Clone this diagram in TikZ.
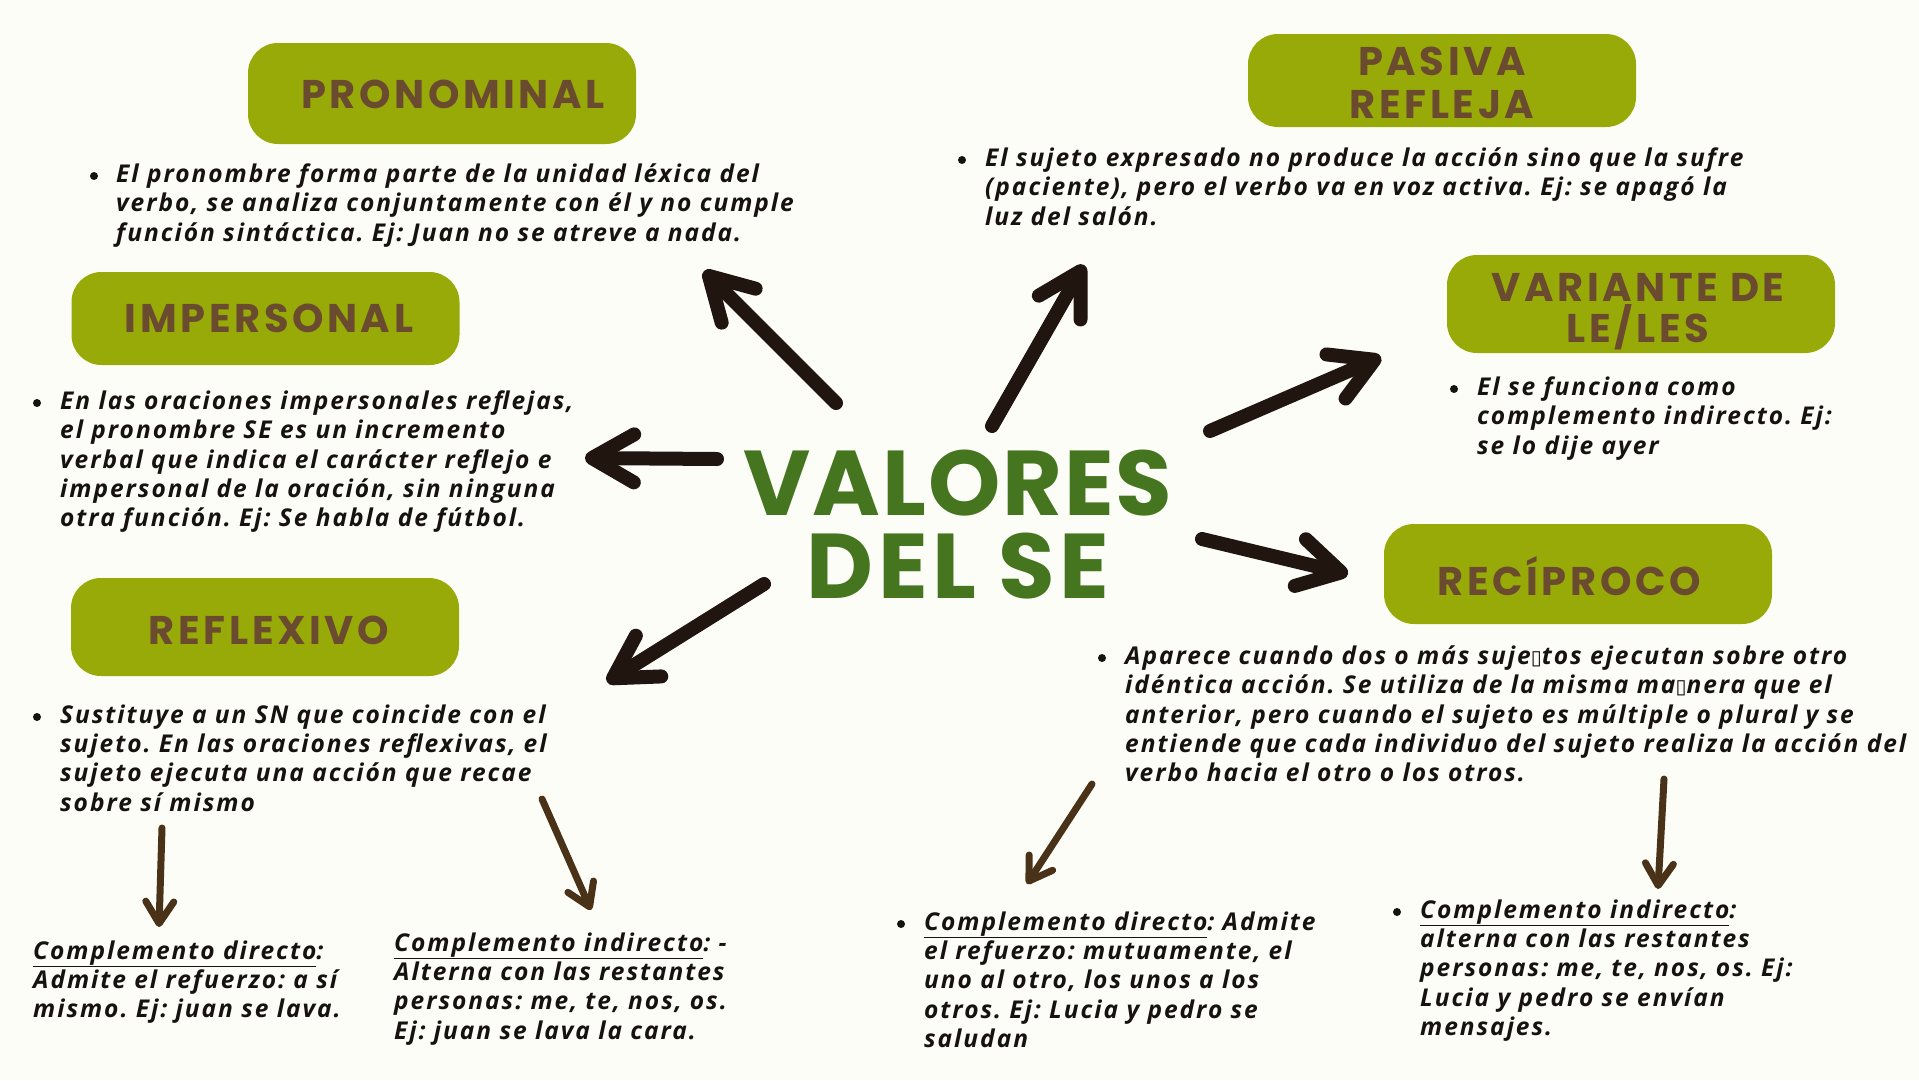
\documentclass[tikz,border=0pt]{standalone}
\usepackage{fontspec}
\setmainfont{Open Sans}[LetterSpace=8]
\newfontfamily\headfont{Poppins}[LetterSpace=9]
\newfontfamily\titlefont{Poppins}[LetterSpace=2]
\newfontfamily\titlefontb{Poppins}[LetterSpace=5]
\newfontfamily\symfont{DejaVu Sans}
\usetikzlibrary{arrows.meta}
\frenchspacing
\definecolor{bgc}{HTML}{FDFDF8}
\definecolor{boxgreen}{HTML}{97AA08}
\definecolor{headbrown}{HTML}{6B4B30}
\definecolor{titlegreen}{HTML}{45761F}
\definecolor{bodyblack}{HTML}{151210}
\definecolor{arrowdark}{HTML}{21150F}
\definecolor{arrowbrown}{HTML}{4A3218}
\newcommand{\tofu}{{\symfont\fontsize{20}{24}\selectfont ▯}}
\tikzset{
  box/.style={fill=boxgreen, rounded corners=30pt, minimum width=388pt, inner sep=0pt},
  headtext/.style={anchor=base, inner sep=0pt, align=center, text=headbrown,
    font=\headfont\bfseries\fontsize{40}{43}\selectfont},
  body/.style={anchor=north west, align=left, inner sep=0pt, text=bodyblack,
    font=\frenchspacing\bfseries\itshape\fontsize{24.5}{29.3}\selectfont, execute at begin node={\strut}},
  bigarrow/.style={draw=arrowdark, line width=14pt, line cap=round,
    -{Straight Barb[length=42pt,width=48pt,round]}},
  thinarrow/.style={draw=arrowbrown, line width=7pt, line cap=round,
    -{Straight Barb[length=22pt,width=28pt,round]}},
  bdot/.style={circle, fill=bodyblack, minimum size=8pt, inner sep=0pt},
  titletext/.style={anchor=base, text=titlegreen, inner sep=0pt},
}
\begin{document}
\begin{tikzpicture}[x=1pt,y=-1pt]
\fill[bgc] (0,0) rectangle (1919,1080);
\useasboundingbox (0,0) rectangle (1919,1080);

% title
\node[titletext, font=\titlefont\bfseries\fontsize{92}{92}\selectfont] (title1) at (958,515) {VALORES};
\node[titletext, font=\titlefontb\bfseries\fontsize{92}{92}\selectfont] (title2) at (958,598) {DEL\hspace{22pt}SE};

% boxes
\node[box, minimum height=101pt] (pron) at (442,93.5) {};
\node[box, minimum height=93pt] (imp) at (265.5,318.5) {};
\node[box, minimum height=98pt] (refl) at (265,627) {};
\node[box, minimum height=93pt] (pas) at (1442,80.5) {};
\node[box, minimum height=98pt] (var) at (1641,304) {};
\node[box, minimum height=100pt] (rec) at (1578,574) {};

% box labels
\node[headtext] (pronl) at (453,108) {PRONOMINAL};
\node[headtext] (impl) at (269,332) {IMPERSONAL};
\node[headtext] (refll) at (269,644) {REFLEXIVO};
\node[headtext] (pasl) at (1442,118) {PASIVA\\REFLEJA};
\node[headtext] (varl) at (1638,342) {VARIANTE DE\\[-2pt]LE/LES};
\node[headtext] (recl) at (1569,595) {RECÍPROCO};

% texts (north west = baseline - 20.5)
\node[bdot] (d1) at (94,176) {};
\node[body] (tpron) at (116,163.5) {El pronombre forma parte de la unidad léxica del\\verbo, se analiza conjuntamente con él y no cumple\\función sintáctica. Ej: Juan no se atreve a nada.};

\node[bdot] (d2) at (962,160) {};
\node[body] (tpas) at (985,147.5) {El sujeto expresado no produce la acción sino que la sufre\\(paciente), pero el verbo va en voz activa. Ej: se apagó la\\luz del salón.};

\node[bdot] (d3) at (1454,389) {};
\node[body] (tvar) at (1477,376.5) {El se funciona como\\complemento indirecto. Ej:\\se lo dije ayer};

\node[bdot] (d4) at (37,403) {};
\node[body] (timp) at (60,390.5) {En las oraciones impersonales reflejas,\\el pronombre SE es un incremento\\verbal que indica el carácter reflejo e\\impersonal de la oración, sin ninguna\\otra función. Ej: Se habla de fútbol.};

\node[bdot] (d5) at (37,717) {};
\node[body] (trefl) at (60,704.5) {Sustituye a un SN que coincide con el\\sujeto. En las oraciones reflexivas, el\\sujeto ejecuta una acción que recae\\sobre sí mismo};

\node[body] (tcd1) at (33,940.5) {\underline{Complemento directo}:\\Admite el refuerzo: a sí\\mismo. Ej: juan se lava.};
\node[body] (tci1) at (394,932.5) {\underline{Complemento indirecto}: -\\Alterna con las restantes\\personas: me, te, nos, os.\\Ej: juan se lava la cara.};

\node[bdot] (d6) at (1102,658) {};
\node[body] (trec) at (1125,645.5) {Aparece cuando dos o más suje\tofu tos ejecutan sobre otro\\idéntica acción. Se utiliza de la misma ma\tofu nera que el\\anterior, pero cuando el sujeto es múltiple o plural y se\\entiende que cada individuo del sujeto realiza la acción del\\verbo hacia el otro o los otros.};

\node[bdot] (d7) at (901,924) {};
\node[body] (tcd2) at (924,911.5) {\underline{Complemento directo}: Admite\\el refuerzo: mutuamente, el\\uno al otro, los unos a los\\otros. Ej: Lucia y pedro se\\saludan};

\node[bdot] (d8) at (1397,912) {};
\node[body] (tci2) at (1420,899.5) {\underline{Complemento indirecto}:\\alterna con las restantes\\personas: me, te, nos, os. Ej:\\Lucia y pedro se envían\\mensajes.};

% arrow coordinates
\coordinate (a1s) at (836,403); \coordinate (a1e) at (704,271);
\coordinate (a2s) at (992,426); \coordinate (a2e) at (1084,265);
\coordinate (a3s) at (1210,431); \coordinate (a3e) at (1381,357);
\coordinate (a4s) at (717,459); \coordinate (a4e) at (585,458);
\coordinate (a5s) at (1202,539); \coordinate (a5e) at (1348,574);
\coordinate (a6s) at (764,584); \coordinate (a6e) at (607,682);
\coordinate (t1s) at (162,828); \coordinate (t1e) at (159,927);
\coordinate (t2s) at (542,799); \coordinate (t2e) at (591,910);
\coordinate (t3s) at (1092,784); \coordinate (t3e) at (1027,884);
\coordinate (t4s) at (1664,779); \coordinate (t4e) at (1658,889);

\draw[bigarrow] (a1s) -- (a1e);
\draw[bigarrow] (a2s) -- (a2e);
\draw[bigarrow] (a3s) -- (a3e);
\draw[bigarrow] (a4s) -- (a4e);
\draw[bigarrow] (a5s) -- (a5e);
\draw[bigarrow] (a6s) -- (a6e);
\draw[thinarrow] (t1s) -- (t1e);
\draw[thinarrow] (t2s) -- (t2e);
\draw[thinarrow] (t3s) -- (t3e);
\draw[thinarrow] (t4s) -- (t4e);
\end{tikzpicture}
\end{document}
